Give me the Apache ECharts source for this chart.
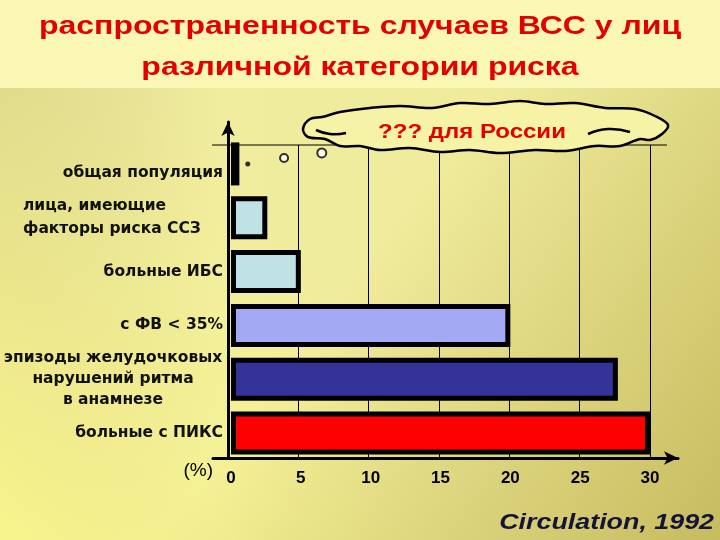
<!DOCTYPE html>
<html><head><meta charset="utf-8">
<script src="https://cdn.jsdelivr.net/npm/echarts@6/dist/echarts.min.js"></script>
<style>html,body{margin:0;padding:0;width:720px;height:540px;overflow:hidden}#c{width:720px;height:540px}</style>
</head><body><div id="c"></div>
<script>
const categories = ['общая популяция', 'лица, имеющие\nфакторы риска ССЗ', 'больные ИБС', 'с ФВ < 35%', 'эпизоды желудочковых\nнарушений ритма\nв анамнезе', 'больные с ПИКС'];
const values = [0.6, 2.6, 5, 20, 27.7, 30];
const barColors = ['#c8e6ee', '#bfe2e4', '#bfe2e4', '#a3a9f2', '#333399', '#ff0000'];
const russiaEstimates = [1.2, 3.8, 6.5];
const xTicks = [0, 5, 10, 15, 20, 25, 30];
const titleLines = ['распространенность случаев ВСС у лиц', 'различной категории риска'];
const cloudText = '??? для России';
const sourceText = 'Circulation, 1992';

const FF = '"Liberation Sans", Arial, sans-serif';
const LF = '"DejaVu Sans", sans-serif';
const chart = echarts.init(document.getElementById('c'));
const LG = echarts.graphic.LinearGradient;

const labelStyles = ['r0', 'l', 'r', 'r', 'c', 'r'];
const base = {fontSize: 15.5, fontWeight: 'bold', fontFamily: LF, color: '#111'};
const rich = {
  r0: Object.assign({padding: [18, 0, 0, 0]}, base),
  r: Object.assign({}, base),
  l: Object.assign({width: 200, align: 'left', lineHeight: 23}, base),
  c: Object.assign({width: 220, align: 'center', lineHeight: 21}, base)
};

const symbols = [
  {symbol: 'circle', symbolSize: 5, symbolOffset: [0, 0], itemStyle: {color: '#000'}},
  {symbol: 'emptyCircle', symbolSize: 8, symbolOffset: [0, -6], itemStyle: {color: '#000', borderWidth: 2.5}},
  {symbol: 'emptyCircle', symbolSize: 9, symbolOffset: [0, -11], itemStyle: {color: '#000', borderWidth: 2.5}}
];

const cloudPoints = [[303,129],[310,119],[322,117],[340,112],[370,108],[400,106],[432,108],[460,103],[490,104],[520,101],[545,104],[575,103],[605,108],[635,109],[655,116],[668,125],[662,134],[650,140],[640,139],[620,146],[595,146],[565,151],[535,150],[500,153],[470,150],[440,152],[410,148],[380,150],[360,146],[340,146],[325,139],[308,137]];

const option = {
  animation: false,
  backgroundColor: '#f3ef9e',
  graphic: [
    {type: 'rect', z: -20, silent: true, shape: {x: 0, y: 0, width: 720, height: 88}, style: {fill: '#faf6b4'}},
    {type: 'rect', z: -20, silent: true, shape: {x: 0, y: 88, width: 720, height: 452},
      style: {fill: new LG(0, 0, 1, 0, [{offset: 0, color: '#d6d08c'}, {offset: 0.3, color: '#f1ed9e'}, {offset: 1, color: '#eeea9a'}])}},
    {type: 'rect', z: -19, silent: true, shape: {x: 0, y: 88, width: 720, height: 452},
      style: {fill: new LG(0, 1, 0.45, 0.45, [{offset: 0, color: 'rgba(250,246,140,0.95)'}, {offset: 1, color: 'rgba(250,246,140,0)'}])}},
    {type: 'rect', z: -18, silent: true, shape: {x: 0, y: 88, width: 720, height: 452},
      style: {fill: new LG(1, 1, 0.5, 0.4, [{offset: 0, color: 'rgba(190,176,80,0.8)'}, {offset: 1, color: 'rgba(190,176,80,0)'}])}},
    {type: 'text', x: 360, y: 27, scaleX: 1.23, silent: true,
      style: {text: titleLines[0], align: 'center', verticalAlign: 'middle', font: 'bold 26px ' + FF, fill: '#e20000'}},
    {type: 'text', x: 360, y: 68, scaleX: 1.23, silent: true,
      style: {text: titleLines[1], align: 'center', verticalAlign: 'middle', font: 'bold 26px ' + FF, fill: '#e20000'}},
    {type: 'line', z: 5, silent: true, shape: {x1: 212, y1: 145, x2: 667, y2: 145}, style: {stroke: '#000', lineWidth: 1}},
    {type: 'polygon', z: 20, silent: true, shape: {points: cloudPoints, smooth: 0.35}, style: {fill: '#f6f2a6', stroke: '#000', lineWidth: 2.5}},
    {type: 'polyline', z: 21, silent: true, shape: {points: [[316,130],[330,134],[346,133]], smooth: 0.5}, style: {fill: null, stroke: '#000', lineWidth: 2.5}},
    {type: 'polyline', z: 21, silent: true, shape: {points: [[588,134],[608,129],[630,132]], smooth: 0.5}, style: {fill: null, stroke: '#000', lineWidth: 2.5}},
    {type: 'text', x: 472, y: 132, scaleX: 1.2, z: 22, silent: true,
      style: {text: cloudText, align: 'center', verticalAlign: 'middle', font: 'bold 20px ' + FF, fill: '#e20000'}},
    {type: 'text', x: 714, y: 523, scaleX: 1.22, silent: true,
      style: {text: sourceText, align: 'right', verticalAlign: 'middle', font: 'italic bold 22px ' + FF, fill: '#14143a'}}
  ],
  grid: [
    {left: 228, right: 70, top: 137, bottom: 80},
    {left: 228, right: 70, top: 145, bottom: 82},
    {left: 213, right: 42, top: 122, bottom: 82}
  ],
  xAxis: [
    {gridIndex: 0, type: 'value', min: 0, max: 30, interval: 5,
      axisLine: {show: false}, axisTick: {show: false}, splitLine: {show: false},
      axisLabel: {customValues: xTicks, fontSize: 17, fontWeight: 'bold', fontFamily: FF, color: '#000', margin: 10},
      name: '(%)', nameLocation: 'start', nameGap: 18,
      nameTextStyle: {fontSize: 19, fontFamily: FF, color: '#000', verticalAlign: 'top', padding: [1, 0, 0, 0]}},
    {gridIndex: 1, type: 'value', min: 0, max: 30, interval: 5,
      axisLine: {show: false}, axisTick: {show: false}, axisLabel: {show: false},
      splitLine: {show: true, lineStyle: {color: '#000', width: 1}}},
    {gridIndex: 2, type: 'value', min: 0, max: 1,
      axisLine: {show: true, onZero: false, symbol: ['none', 'arrow'], symbolSize: [10, 14], lineStyle: {color: '#000', width: 3}},
      axisTick: {show: false}, axisLabel: {show: false}, splitLine: {show: false}}
  ],
  yAxis: [
    {gridIndex: 0, type: 'category', inverse: true, data: categories,
      axisLine: {show: false}, axisTick: {show: false}, splitLine: {show: false},
      axisLabel: {margin: 8, rich: rich,
        formatter: function (v, i) {
          const s = labelStyles[i];
          return v.split('\n').map(function (ln) { return '{' + s + '|' + ln + '}'; }).join('\n');
        }}},
    {gridIndex: 1, type: 'value', show: false},
    {gridIndex: 2, type: 'value', min: 0, max: 1, offset: -15,
      axisLine: {show: true, onZero: false, symbol: ['none', 'arrow'], symbolSize: [10, 14], lineStyle: {color: '#000', width: 3}},
      axisTick: {show: false}, axisLabel: {show: false}, splitLine: {show: false}}
  ],
  series: [
    {type: 'bar', xAxisIndex: 0, yAxisIndex: 0, barWidth: 43, z: 10,
      data: values.map(function (v, i) { return {value: v, itemStyle: {color: barColors[i]}}; }),
      itemStyle: {borderColor: '#000', borderWidth: 5}},
    {type: 'scatter', xAxisIndex: 0, yAxisIndex: 0, z: 11,
      data: russiaEstimates.map(function (v, i) {
        return Object.assign({value: [v, 0]}, symbols[i]);
      })}
  ]
};
chart.setOption(option);
</script>
</body></html>
